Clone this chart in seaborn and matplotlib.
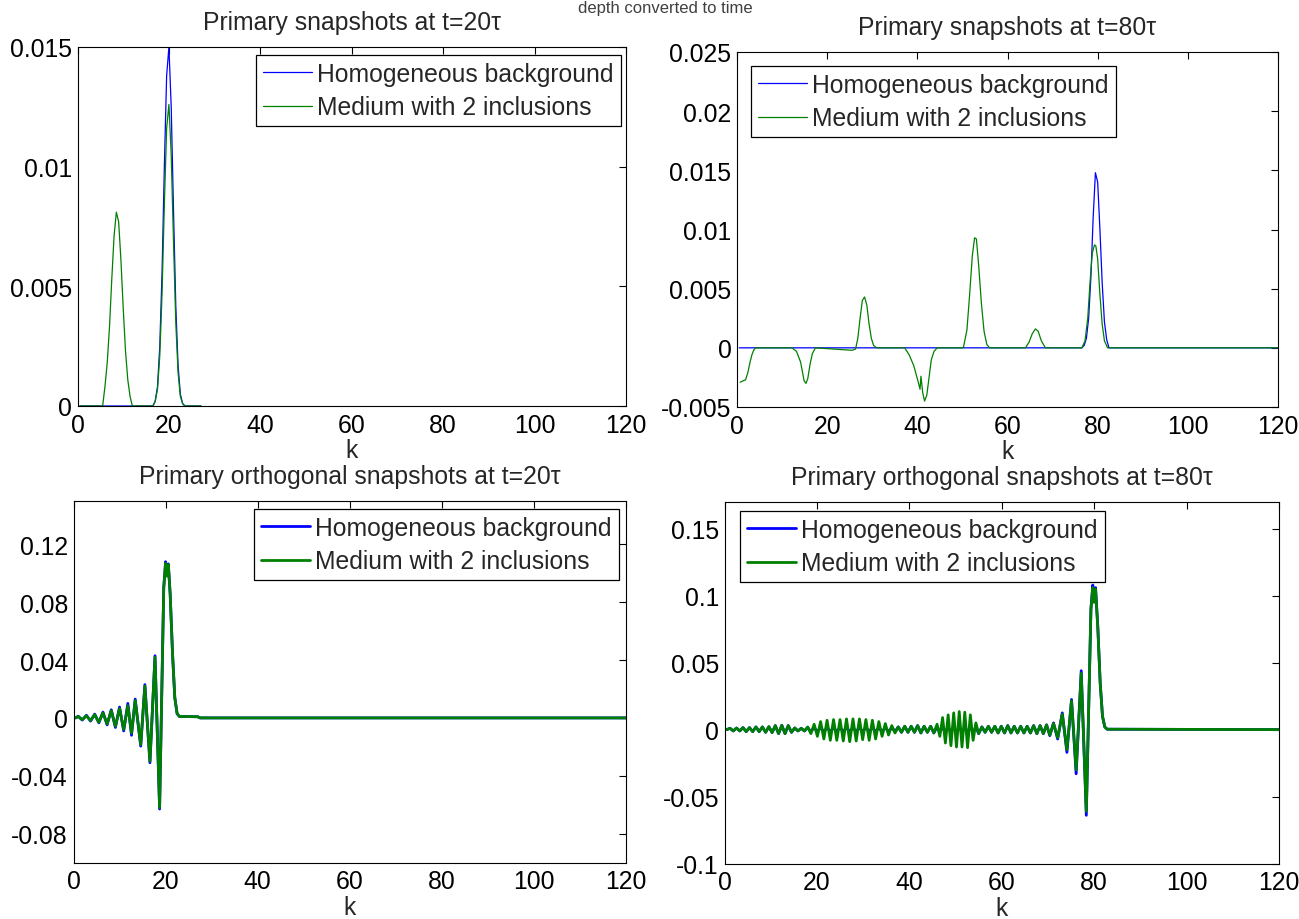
import numpy as np
import pandas as pd
import matplotlib
matplotlib.use("Agg")
import matplotlib.pyplot as plt
import seaborn as sns

# ---------------- data ----------------
# Top-left: primary snapshots at t=20tau
k_tl_b = [0.5, 16.5, 17, 17.5, 18, 18.5, 19, 19.5, 20, 20.5, 21, 21.5, 22, 22.5, 23, 23.5, 27]
v_tl_b = [0, 0, 0.0002, 0.0008, 0.0025, 0.0056, 0.0100, 0.0138, 0.0150, 0.0125, 0.0082, 0.0042,
          0.0017, 0.0005, 0.0001, 0, 0]
k_tl_g = [0.5, 5.5, 6, 6.5, 7, 7.5, 8, 8.5, 9, 9.5, 10, 10.5, 11, 11.5, 12, 16.5, 17, 17.5, 18,
          18.5, 19, 19.5, 20, 20.5, 21, 21.5, 22, 22.5, 23, 23.5, 27]
v_tl_g = [0, 0, 0.0008, 0.0018, 0.0033, 0.0053, 0.0071, 0.0081, 0.0077, 0.0061, 0.0041, 0.0023,
          0.0011, 0.0004, 0, 0, 0.0002, 0.0007, 0.0021, 0.0047, 0.0084, 0.0116, 0.0126, 0.0105,
          0.0069, 0.0035, 0.0014, 0.0004, 0.0001, 0, 0]

# Top-right: primary snapshots at t=80tau
k_tr_b = [0.5, 76.5, 77, 77.5, 78, 78.5, 79, 79.5, 80, 80.5, 81, 81.5, 82, 82.5, 120]
v_tr_b = [0, 0, 0.0002, 0.0008, 0.0025, 0.0060, 0.0110, 0.0148, 0.0140, 0.0100, 0.0055, 0.0022,
          0.0007, 0, 0]
k_tr_g = [0.7, 1.9, 2.4, 2.9, 3.3, 3.7, 4.1, 12.2, 13.2, 13.7, 14.1, 14.5, 14.9, 15.3, 15.7,
          16.2, 16.7, 17.4, 25.2, 25.6, 26.3, 26.8, 27.3, 27.8, 28.3, 28.8, 29.3, 29.8, 30.3,
          31.0, 37.2, 38.2, 39.2, 40.0, 40.6, 40.8, 41.2, 41.6, 42.1, 42.6, 43.1, 43.7, 44.4,
          50.2, 51.0, 51.6, 52.2, 52.7, 53.1, 53.6, 54.2, 54.8, 55.4, 56.0, 64.0, 64.8, 65.5,
          66.2, 66.8, 67.5, 68.4, 76.5, 77.2, 77.8, 78.3, 78.8, 79.3, 79.6, 80.0, 80.5, 81.0,
          81.5, 82.2, 120]
v_tr_g = [-0.0029, -0.0027, -0.0021, -0.0012, -0.0006, -0.0002, 0, 0, -0.0003, -0.0008, -0.0012,
          -0.0020, -0.0028, -0.0030, -0.0026, -0.0014, -0.0005, 0, -0.0002, -0.0002, -0.0001,
          0.0008, 0.0025, 0.0040, 0.0043, 0.0036, 0.0020, 0.0008, 0.0002, 0, 0, -0.0006,
          -0.0015, -0.0026, -0.0035, -0.0024, -0.0038, -0.0045, -0.0040, -0.0025, -0.0010,
          -0.0003, 0, 0, 0.0015, 0.0045, 0.0078, 0.0093, 0.0092, 0.0070, 0.0038, 0.0014, 0.0003,
          0, 0, 0.0005, 0.0012, 0.0016, 0.0014, 0.0006, 0, 0, 0.0006, 0.0025, 0.0055, 0.0080,
          0.0087, 0.0086, 0.0075, 0.0045, 0.0020, 0.0006, 0, 0]

# Bottom-left: primary orthogonal snapshots at t=20tau
k_bl = [0.5, 1.0, 1.9, 2.8, 3.7, 4.6, 5.5, 6.4, 7.3, 8.2, 9.1, 10.0, 10.9, 11.8, 12.6, 13.4,
        14.6, 15.5, 16.6, 17.7, 18.7, 19.6, 20.0, 20.3, 20.6, 21.0, 21.5, 22.0, 22.5, 23.0,
        27.0, 27.5, 120]
v_bl_g = [0, 0.0010, -0.0012, 0.0015, -0.0018, 0.0022, -0.0030, 0.0035, -0.0042, 0.0050,
          -0.0058, 0.0065, -0.0080, 0.0085, -0.0105, 0.0120, -0.0185, 0.0220, -0.0300, 0.0420,
          -0.0620, 0.0900, 0.1070, 0.0980, 0.1060, 0.0850, 0.0450, 0.0140, 0.0030, 0.0010,
          0.0008, 0, 0]
v_bl_b = [0, 0.0012, -0.0015, 0.0018, -0.0022, 0.0026, -0.0034, 0.0040, -0.0048, 0.0056,
          -0.0066, 0.0075, -0.0090, 0.0100, -0.0120, 0.0130, -0.0195, 0.0230, -0.0310, 0.0430,
          -0.0630, 0.0900, 0.1080, 0.0990, 0.1065, 0.0855, 0.0450, 0.0140, 0.0030, 0.0010,
          0.0008, 0, 0]

# Bottom-right: primary orthogonal snapshots at t=80tau
k_br = [0.5, 1.2, 1.9, 2.6, 3.3, 4.0, 4.7, 5.4, 6.1, 6.8, 7.5, 8.2, 8.9, 9.6, 10.3, 11.0, 11.7,
        12.4, 13.1, 13.8, 14.5, 15.2, 15.9, 16.6, 17.3, 18.0,
        18.7, 19.4, 20.1, 20.8, 21.5, 22.2, 22.9, 23.6, 24.3, 25.0, 25.7, 26.4, 27.1, 27.8,
        28.5, 29.2, 29.9, 30.6, 31.3, 32.0, 32.7, 33.4, 34.1, 34.8, 35.5, 36.2, 36.9,
        37.6, 38.3, 39.0, 39.7, 40.4, 41.1, 41.8, 42.5, 43.2, 43.9, 44.6, 45.3,
        46.0, 46.6, 47.2, 47.8, 48.4, 49.0, 49.6, 50.2, 50.8, 51.4, 52.0, 52.6, 53.2, 53.8, 54.4,
        55.0, 55.7, 56.4, 57.1, 57.8, 58.5, 59.2, 59.9, 60.6, 61.3, 62.0, 62.7, 63.4, 64.1,
        64.8, 65.5, 66.2, 66.9, 67.6, 68.3, 69.0, 69.7,
        70.4, 71.2, 72.1, 73.1, 74.1, 75.1, 76.1, 77.2, 78.3, 79.3, 79.7, 80.0, 80.3, 80.8,
        81.3, 81.8, 82.3, 82.8, 120]
v_br_g = [0, 0.0010, -0.0010, 0.0012, -0.0010, 0.0015, -0.0015, 0.0015, -0.0015, 0.0020,
          -0.0015, 0.0020, -0.0020, 0.0022, -0.0022, 0.0030, -0.0030, 0.0032, -0.0030, 0.0030,
          -0.0020, 0.0012, -0.0010, 0.0010, -0.0010, 0.0020,
          -0.0030, 0.0040, -0.0050, 0.0060, -0.0070, 0.0070, -0.0080, 0.0075, -0.0080, 0.0075,
          -0.0085, 0.0080, -0.0090, 0.0080, -0.0085, 0.0080, -0.0075, 0.0075, -0.0080, 0.0070,
          -0.0070, 0.0060, -0.0050, 0.0045, -0.0040, 0.0030, -0.0025,
          0.0020, -0.0020, 0.0025, -0.0020, 0.0025, -0.0020, 0.0030, -0.0025, 0.0025, -0.0020,
          0.0025, -0.0025,
          0.0040, -0.0050, 0.0090, -0.0100, 0.0110, -0.0120, 0.0125, -0.0130, 0.0135, -0.0130,
          0.0130, -0.0135, 0.0110, -0.0080, 0.0050,
          -0.0030, 0.0020, -0.0020, 0.0025, -0.0020, 0.0025, -0.0025, 0.0025, -0.0025, 0.0030,
          -0.0025, 0.0025, -0.0025, 0.0025, -0.0025, 0.0025, -0.0025, 0.0030, -0.0030, 0.0030,
          -0.0030, 0.0035,
          -0.0040, 0.0045, -0.0060, 0.0115, -0.0150, 0.0215, -0.0300, 0.0420, -0.0610, 0.0900,
          0.1060, 0.0950, 0.1050, 0.0750, 0.0350, 0.0100, 0.0020, 0.0003, 0]
v_br_b = [0, 0.0010, -0.0010, 0.0012, -0.0010, 0.0015, -0.0015, 0.0015, -0.0015, 0.0020,
          -0.0015, 0.0020, -0.0020, 0.0022, -0.0022, 0.0030, -0.0030, 0.0032, -0.0030, 0.0030,
          -0.0020, 0.0012, -0.0010, 0.0010, -0.0010, 0.0015,
          -0.0015, 0.0015, -0.0015, 0.0015, -0.0015, 0.0015, -0.0015, 0.0015, -0.0015, 0.0015,
          -0.0015, 0.0015, -0.0015, 0.0015, -0.0015, 0.0015, -0.0015, 0.0015, -0.0015, 0.0015,
          -0.0015, 0.0015, -0.0015, 0.0015, -0.0015, 0.0015, -0.0015,
          0.0020, -0.0020, 0.0025, -0.0020, 0.0025, -0.0020, 0.0030, -0.0025, 0.0025, -0.0020,
          0.0025, -0.0025,
          0.0020, -0.0020, 0.0020, -0.0020, 0.0020, -0.0020, 0.0020, -0.0020, 0.0020, -0.0020,
          0.0020, -0.0020, 0.0020, -0.0020, 0.0020,
          -0.0030, 0.0020, -0.0020, 0.0025, -0.0020, 0.0025, -0.0025, 0.0025, -0.0025, 0.0030,
          -0.0025, 0.0025, -0.0025, 0.0025, -0.0025, 0.0025, -0.0025, 0.0030, -0.0030, 0.0030,
          -0.0030, 0.0035,
          -0.0045, 0.0050, -0.0070, 0.0125, -0.0170, 0.0225, -0.0330, 0.0440, -0.0640, 0.0900,
          0.1080, 0.0960, 0.1060, 0.0760, 0.0350, 0.0100, 0.0020, 0.0003, 0]

titles = ["Primary snapshots at t=20\u03c4", "Primary snapshots at t=80\u03c4",
          "Primary orthogonal snapshots at t=20\u03c4", "Primary orthogonal snapshots at t=80\u03c4"]
legend_labels = ["Homogeneous background", "Medium with 2 inclusions"]
x_ticks = [0, 20, 40, 60, 80, 100, 120]
y_ticks_tl = [0, 0.005, 0.01, 0.015]
y_lbls_tl = ["0", "0.005", "0.01", "0.015"]
y_ticks_tr = [-0.005, 0, 0.005, 0.01, 0.015, 0.02, 0.025]
y_lbls_tr = ["-0.005", "0", "0.005", "0.01", "0.015", "0.02", "0.025"]
y_ticks_bl = [-0.08, -0.04, 0, 0.04, 0.08, 0.12]
y_lbls_bl = ["-0.08", "-0.04", "0", "0.04", "0.08", "0.12"]
y_ticks_br = [-0.1, -0.05, 0, 0.05, 0.1, 0.15]
y_lbls_br = ["-0.1", "-0.05", "0", "0.05", "0.1", "0.15"]
suptitle = "depth converted to time"

for a, b in [(k_tl_b, v_tl_b), (k_tl_g, v_tl_g), (k_tr_b, v_tr_b), (k_tr_g, v_tr_g),
             (k_bl, v_bl_g), (k_bl, v_bl_b), (k_br, v_br_g), (k_br, v_br_b)]:
    assert len(a) == len(b), (len(a), len(b))

# ---------------- style ----------------
sns.set_style("white")
plt.rcParams["font.family"] = ["Liberation Sans", "DejaVu Sans"]
FS = 17.8
BLUE = (0, 0, 1)
GREEN = (0, 0.5, 0)

W, H = 1299, 920
fig = plt.figure(figsize=(W / 100, H / 100), dpi=100)
fig.patch.set_facecolor("white")


def add_ax(x0, y0, x1, y1):
    return fig.add_axes([x0 / W, 1 - y1 / H, (x1 - x0) / W, (y1 - y0) / H])


panels = [
    dict(box=(77.5, 48, 626, 407), kb=k_tl_b, vb=v_tl_b, kg=k_tl_g, vg=v_tl_g, lw=0.9,
         ylim=(0, 0.015), yt=y_ticks_tl, yl=y_lbls_tl, leg=(256, 56)),
    dict(box=(737, 53, 1278, 408), kb=k_tr_b, vb=v_tr_b, kg=k_tr_g, vg=v_tr_g, lw=0.9,
         ylim=(-0.005, 0.025), yt=y_ticks_tr, yl=y_lbls_tr, leg=(751, 67)),
    dict(box=(73.5, 502, 626, 863.5), kb=k_bl, vb=v_bl_b, kg=k_bl, vg=v_bl_g, lw=2.0,
         ylim=(-0.1, 0.15), yt=y_ticks_bl, yl=y_lbls_bl, leg=(254, 510)),
    dict(box=(724.5, 503, 1279, 864.5), kb=k_br, vb=v_br_b, kg=k_br, vg=v_br_g, lw=2.0,
         ylim=(-0.1, 0.17), yt=y_ticks_br, yl=y_lbls_br, leg=(740, 512)),
]

for i, p in enumerate(panels):
    ax = add_ax(*p["box"])
    df_b = pd.DataFrame({"k": p["kb"], "v": p["vb"]})
    df_g = pd.DataFrame({"k": p["kg"], "v": p["vg"]})
    sns.lineplot(data=df_b, x="k", y="v", ax=ax, color=BLUE, linewidth=p["lw"],
                 label=legend_labels[0], estimator=None, sort=False)
    sns.lineplot(data=df_g, x="k", y="v", ax=ax, color=GREEN, linewidth=p["lw"],
                 label=legend_labels[1], estimator=None, sort=False)
    ax.set_xlim(0, 120)
    ax.set_ylim(*p["ylim"])
    ax.set_xticks(x_ticks)
    ax.set_xticklabels([str(t) for t in x_ticks])
    ax.set_yticks(p["yt"])
    ax.set_yticklabels(p["yl"])
    ax.tick_params(direction="in", top=True, right=True, length=5, width=0.8,
                   labelsize=FS, colors="black")
    ax.tick_params(axis="x", pad=5)
    ax.tick_params(axis="y", pad=4)
    for s in ax.spines.values():
        s.set_visible(True)
        s.set_color("black")
        s.set_linewidth(0.8)
    ax.set_xlabel("k", fontsize=FS, labelpad=1)
    ax.set_ylabel("")
    ax.set_title(titles[i], fontsize=FS, pad=13)
    lx, ly = p["leg"]
    leg = ax.legend(loc="upper left", bbox_to_anchor=(lx / W, 1 - ly / H),
                    bbox_transform=fig.transFigure, borderaxespad=0, fontsize=FS,
                    frameon=True, fancybox=False, shadow=False, framealpha=1,
                    edgecolor="black", handlelength=2.0, handletextpad=0.2,
                    borderpad=0.28, labelspacing=0.38)
    leg.get_frame().set_linewidth(0.9)

fig.text(665 / W, 1 - 1 / H, suptitle, ha="center", va="top", fontsize=12,
         color="#404040")

fig.savefig("out.png", dpi=100, facecolor="white")
